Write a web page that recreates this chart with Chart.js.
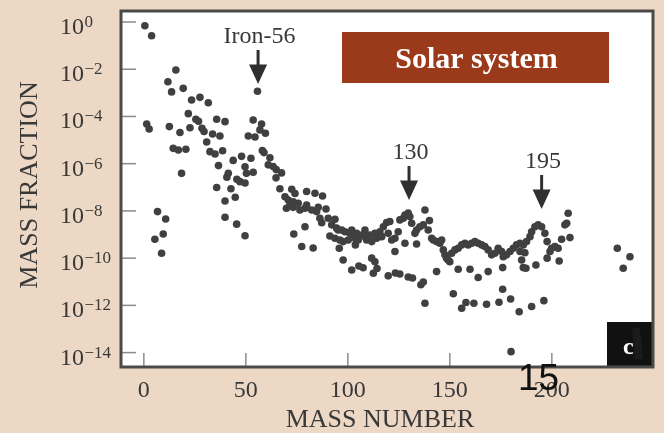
<!DOCTYPE html>
<html>
<head>
<meta charset="utf-8">
<script src="https://cdn.jsdelivr.net/npm/chart.js@4/dist/chart.umd.min.js"></script>
<style>
html,body{margin:0;padding:0;background:#ecd8c5;}
canvas{display:block;}
</style>
</head>
<body>
<canvas id="chart" width="664" height="433"></canvas>
<script>
// ---- data ----
const massNumber = [
  0.5,1.4,2.6,3.8,5.4,6.7,8.7,9.5,10.7,11.8,12.5,13.6,14.4,15.7,16.9,17.7,18.5,19.3,20.6,21.8,
  22.6,23.4,25.5,26.8,27.5,28.5,29.5,30.8,31.6,32.4,33.7,34.9,35.7,35.7,36.6,37.3,38.6,39.8,39.8,39.8,
  40.7,41.4,42.7,43.8,44.8,45.5,45.6,47.1,47.9,49.6,49.6,49.6,50.3,51.2,52.5,53.6,53.6,54.5,55.7,56.9,
  57.7,58.1,58.9,59.6,61.0,61.8,63.4,64.8,64.9,66.7,67.5,69.2,69.9,70.8,71.6,72.5,73.2,73.2,73.5,74.1,
  75.7,76.5,77.4,79.0,79.0,79.8,79.8,82.3,83.0,83.9,84.7,85.5,86.3,87.2,87.6,89.3,90.4,91.2,92.1,93.7,
  93.7,94.5,95.3,95.8,96.1,97.0,97.7,97.7,98.6,100.2,101.0,101.9,101.9,102.6,103.5,103.7,104.3,105.1,105.4,106.8,
  107.5,108.4,108.4,109.2,110.8,111.7,111.7,112.5,113.3,113.3,114.1,114.3,115.7,116.6,117.4,119.0,119.8,119.8,120.6,121.5,
  123.1,123.1,123.3,124.7,125.5,125.5,127.2,128.0,128.0,129.6,129.6,130.4,131.3,131.7,132.9,133.7,133.7,135.3,135.8,137.0,
  137.0,137.8,137.8,139.4,140.0,141.1,141.9,143.5,143.5,145.1,146.0,146.8,147.6,148.4,149.2,150.0,150.9,151.7,152.5,154.1,
  154.1,155.8,155.8,157.4,157.9,159.0,159.9,160.7,161.8,162.3,163.9,163.9,165.6,167.2,168.0,168.8,168.8,170.5,172.1,173.7,
  174.1,175.4,175.9,175.9,176.2,177.8,179.5,179.8,180.0,181.1,182.7,184.0,184.4,184.4,185.2,186.0,186.0,186.8,187.3,187.6,
  189.3,190.1,190.1,191.7,192.2,193.3,195.0,196.1,196.6,197.7,197.7,199.1,199.9,201.5,203.1,203.6,204.8,206.4,207.3,208.0,
  208.9,232.1,235.0,238.3
];
const log10MassFraction = [
  -0.16,-4.32,-4.53,-0.58,-9.20,-8.03,-9.79,-8.98,-8.34,-2.53,-4.43,-2.96,-5.35,-2.03,-5.42,-4.68,-6.41,-2.81,-5.39,-3.88,
  -4.48,-3.30,-4.12,-4.20,-3.19,-4.50,-4.64,-5.08,-3.42,-5.49,-4.74,-5.59,-4.12,-7.01,-6.08,-4.83,-5.45,-4.22,-7.58,-8.27,
  -6.57,-6.41,-7.06,-5.86,-7.42,-8.56,-6.66,-6.76,-5.69,-6.82,-6.13,-9.05,-6.41,-4.83,-5.77,-4.15,-6.36,-4.87,-2.93,-4.57,
  -4.32,-5.44,-5.53,-4.71,-6.05,-5.75,-6.12,-6.60,-6.25,-7.06,-6.39,-7.40,-7.89,-7.54,-7.75,-7.08,-7.61,-7.85,-8.98,-7.26,
  -7.68,-7.96,-9.51,-7.89,-8.67,-7.18,-7.75,-7.96,-9.57,-7.25,-8.03,-7.85,-8.31,-8.50,-7.37,-7.92,-8.31,-9.06,-8.59,-8.35,
  -9.16,-8.73,-8.81,-9.58,-9.23,-8.81,-10.08,-9.30,-8.88,-9.23,-8.95,-10.50,-8.81,-9.09,-9.16,-9.44,-8.95,-9.23,-10.33,-9.02,
  -10.41,-9.09,-8.81,-9.23,-9.02,-9.30,-10.00,-10.64,-10.15,-8.95,-9.16,-10.44,-8.88,-9.09,-8.67,-8.49,-10.75,-8.95,-8.45,-9.23,
  -9.16,-9.72,-10.63,-8.88,-10.67,-8.38,-8.31,-8.17,-9.37,-8.09,-10.80,-8.24,-8.52,-10.84,-8.95,-8.81,-9.40,-8.67,-11.13,-11.01,
  -8.59,-7.96,-11.91,-8.81,-8.41,-9.16,-9.23,-9.30,-10.57,-9.37,-9.23,-9.65,-9.86,-10.00,-10.08,-10.15,-9.79,-11.51,-9.65,-9.58,
  -10.47,-9.44,-12.12,-9.37,-11.88,-9.44,-10.47,-9.37,-11.91,-9.30,-9.37,-10.82,-9.44,-9.51,-11.95,-9.65,-10.57,-9.86,-9.79,-9.58,
  -11.87,-9.72,-10.40,-11.32,-9.94,-9.86,-9.72,-11.73,-13.96,-9.58,-9.44,-12.27,-9.37,-9.72,-10.08,-9.44,-10.40,-9.77,-10.43,-9.30,
  -9.09,-8.88,-12.05,-8.67,-10.29,-8.59,-8.67,-11.80,-8.95,-9.30,-10.00,-9.72,-9.58,-9.51,-9.58,-10.12,-9.20,-8.59,-8.52,-8.10,
  -9.13,-9.58,-10.43,-9.94
];
const yTickExponents = [0, -2, -4, -6, -8, -10, -12, -14];
const xTickValues = [0, 50, 100, 150, 200];
const peakMassNumbers = [56, 130, 195];
const peakLabels = ['Iron-56', '130', '195'];
const xAxisTitle = 'MASS NUMBER';
const yAxisTitle = 'MASS FRACTION';
const badgeText = 'Solar system';
const cornerText = '15';

// ---- styles ----
const BG = '#ecd8c5';
const INK = '#383838';
const DOT = '#404040';
const SERIF = '"Liberation Serif", "DejaVu Serif", serif';
const peakLabelBaseline = [43, 159, 168];

const points = massNumber.map((a, i) => ({ x: a, y: Math.pow(10, log10MassFraction[i]) }));

function drawArrow(ctx, x, base) {
  const shaftTop = base + 7, headTop = base + 21.5, tip = base + 41, half = 9;
  ctx.strokeStyle = '#2f2f2f';
  ctx.fillStyle = '#2f2f2f';
  ctx.lineWidth = 3;
  ctx.beginPath();
  ctx.moveTo(x, shaftTop);
  ctx.lineTo(x, headTop + 1);
  ctx.stroke();
  ctx.beginPath();
  ctx.moveTo(x - half, headTop);
  ctx.lineTo(x + half, headTop);
  ctx.lineTo(x, tip);
  ctx.closePath();
  ctx.fill();
}

const decor = {
  id: 'decor',
  beforeDraw(chart) {
    const { ctx, chartArea: a } = chart;
    const xs = chart.scales.x, ys = chart.scales.y;
    ctx.save();
    ctx.fillStyle = BG;
    ctx.fillRect(0, 0, chart.width, chart.height);
    ctx.fillStyle = '#ffffff';
    ctx.fillRect(a.left, a.top, a.right - a.left, a.bottom - a.top);
    // inward tick marks
    ctx.strokeStyle = '#8c8c8c';
    ctx.lineWidth = 1.5;
    yTickExponents.forEach(e => {
      const py = ys.getPixelForValue(Math.pow(10, e));
      ctx.beginPath();
      ctx.moveTo(a.left, py);
      ctx.lineTo(a.left + 15, py);
      ctx.stroke();
    });
    xTickValues.forEach(v => {
      const px = xs.getPixelForValue(v);
      ctx.beginPath();
      ctx.moveTo(px, a.bottom);
      ctx.lineTo(px, a.bottom - 14);
      ctx.stroke();
    });
    ctx.restore();
  },
  afterDraw(chart) {
    const { ctx, chartArea: a } = chart;
    const xs = chart.scales.x, ys = chart.scales.y;
    ctx.save();

    // black corner box
    ctx.fillStyle = '#111111';
    ctx.fillRect(607, 322, a.right - 607, a.bottom - 322);
    ctx.fillStyle = '#ffffff';
    ctx.font = 'bold 24px ' + SERIF;
    ctx.textAlign = 'left';
    ctx.textBaseline = 'alphabetic';
    ctx.fillText('c', 623, 354);
    ctx.fillStyle = '#1b1b1b';
    ctx.beginPath();
    ctx.moveTo(632, 328);
    ctx.lineTo(640, 328);
    ctx.lineTo(643, 359);
    ctx.lineTo(635, 359);
    ctx.closePath();
    ctx.fill();

    // frame
    ctx.strokeStyle = '#4a4a4a';
    ctx.lineWidth = 3;
    ctx.strokeRect(a.left, a.top, a.right - a.left, a.bottom - a.top);

    // y tick labels 10^n
    ctx.fillStyle = INK;
    ctx.textAlign = 'left';
    ctx.textBaseline = 'alphabetic';
    yTickExponents.forEach(e => {
      const py = ys.getPixelForValue(Math.pow(10, e));
      ctx.font = '24px ' + SERIF;
      ctx.fillText('10', 60, py + 12);
      const w = ctx.measureText('10').width;
      ctx.font = '17px ' + SERIF;
      ctx.fillText(e === 0 ? '0' : '\u2212' + (-e), 60 + w + 0.5, py + 5);
    });

    // x tick labels
    ctx.font = '24px ' + SERIF;
    ctx.textAlign = 'center';
    xTickValues.forEach(v => {
      ctx.fillText(String(v), xs.getPixelForValue(v), 397);
    });

    // axis titles
    ctx.font = '26px ' + SERIF;
    ctx.fillText(xAxisTitle, 380, 427);
    ctx.save();
    ctx.translate(37, 185);
    ctx.rotate(-Math.PI / 2);
    ctx.fillText(yAxisTitle, 0, 0);
    ctx.restore();

    // peak annotations
    peakMassNumbers.forEach((m, i) => {
      const px = xs.getPixelForValue(m);
      ctx.fillStyle = INK;
      ctx.font = '24px ' + SERIF;
      ctx.textAlign = 'center';
      ctx.fillText(peakLabels[i], px + 1.5, peakLabelBaseline[i]);
      drawArrow(ctx, px, peakLabelBaseline[i]);
    });

    // badge
    ctx.fillStyle = '#9b3a1b';
    ctx.fillRect(342, 32, 267, 51);
    ctx.fillStyle = '#ffffff';
    ctx.font = 'bold 30px ' + SERIF;
    ctx.textAlign = 'center';
    ctx.fillText(badgeText, 476.5, 68);

    // stray overlay text
    ctx.fillStyle = '#111111';
    ctx.font = '37px "Liberation Sans", Arial, sans-serif';
    ctx.textAlign = 'left';
    ctx.fillText(cornerText, 518, 390);

    ctx.restore();
  }
};

new Chart(document.getElementById('chart'), {
  type: 'scatter',
  data: {
    datasets: [{
      label: 'Solar system abundances',
      data: points,
      backgroundColor: DOT,
      borderWidth: 0,
      pointRadius: 3.8,
      pointHoverRadius: 3.8
    }]
  },
  options: {
    responsive: false,
    animation: false,
    devicePixelRatio: 1,
    layout: { padding: { left: 0, top: 11, right: 11, bottom: 0 } },
    plugins: { legend: { display: false }, tooltip: { enabled: false } },
    scales: {
      x: {
        type: 'linear',
        min: -11.2,
        max: 249.6,
        grid: { display: false },
        border: { display: false },
        ticks: { display: false },
        afterFit(s) { s.height = 66; }
      },
      y: {
        type: 'logarithmic',
        min: Math.pow(10, -14.61),
        max: Math.pow(10, 0.466),
        grid: { display: false },
        border: { display: false },
        ticks: { display: false },
        afterFit(s) { s.width = 121; }
      }
    }
  },
  plugins: [decor]
});
</script>
</body>
</html>
